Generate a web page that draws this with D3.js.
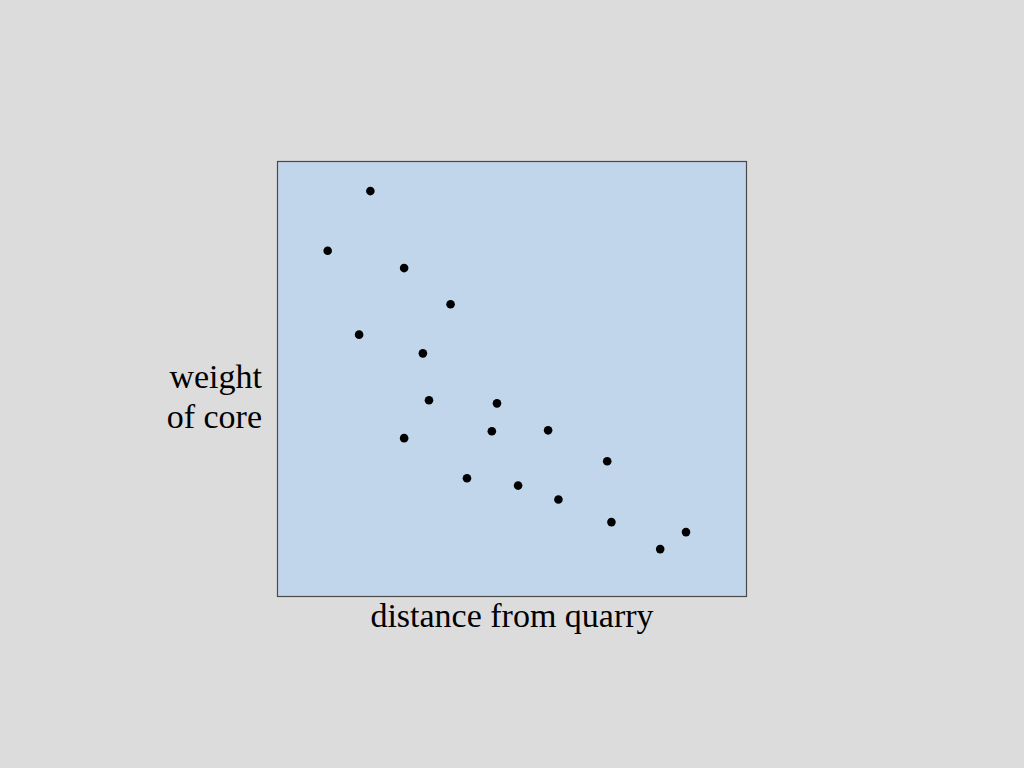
<!DOCTYPE html>
<html><head><meta charset="utf-8">
<script src="https://cdn.jsdelivr.net/npm/d3@7"></script>
<style>html,body{margin:0;padding:0;background:#dcdcdc;}</style>
</head><body>
<script>
const distance = [19.8,10.7,27.0,36.9,17.4,31.0,32.3,46.8,45.7,57.7,27.0,70.3,40.4,51.3,59.9,71.2,81.6,87.1];
const weight   = [93.2,79.5,75.5,67.2,60.2,55.9,45.1,44.4,38.0,38.2,36.4,31.1,27.2,25.5,22.3,17.1,10.9,14.8];
const xLabel = "distance from quarry";
const yLabel = ["weight","of core"];

const W=1024,H=768;
const m={left:277.5,top:161.5,right:1024-746.5,bottom:768-596.5};
const svg=d3.select("body").append("svg").attr("width",W).attr("height",H);
svg.append("rect").attr("width",W).attr("height",H).attr("fill","#dcdcdc");
const x=d3.scaleLinear().domain([0,100]).range([m.left,W-m.right]);
const y=d3.scaleLinear().domain([0,100]).range([H-m.bottom,m.top]);
svg.append("rect").attr("x",x(0)).attr("y",y(100)).attr("width",x(100)-x(0)).attr("height",y(0)-y(100))
  .attr("fill","#c1d6ea").attr("stroke","#4a4a4a").attr("stroke-width",1.2);
svg.selectAll("circle.pt").data(distance.map((d,i)=>[d,weight[i]])).join("circle")
  .attr("class","pt").attr("cx",d=>x(d[0])).attr("cy",d=>y(d[1])).attr("r",4.3).attr("fill","#000");
svg.append("text").attr("x",(x(0)+x(100))/2).attr("y",627).attr("text-anchor","middle")
  .attr("font-family","Liberation Serif, Times New Roman, serif").attr("font-size",34).attr("fill","#000").text(xLabel);
svg.selectAll("text.yl").data(yLabel).join("text").attr("class","yl")
  .attr("x",262).attr("y",(d,i)=>388+i*40).attr("text-anchor","end")
  .attr("font-family","Liberation Serif, Times New Roman, serif").attr("font-size",34).attr("fill","#000").text(d=>d);
</script>
</body></html>
